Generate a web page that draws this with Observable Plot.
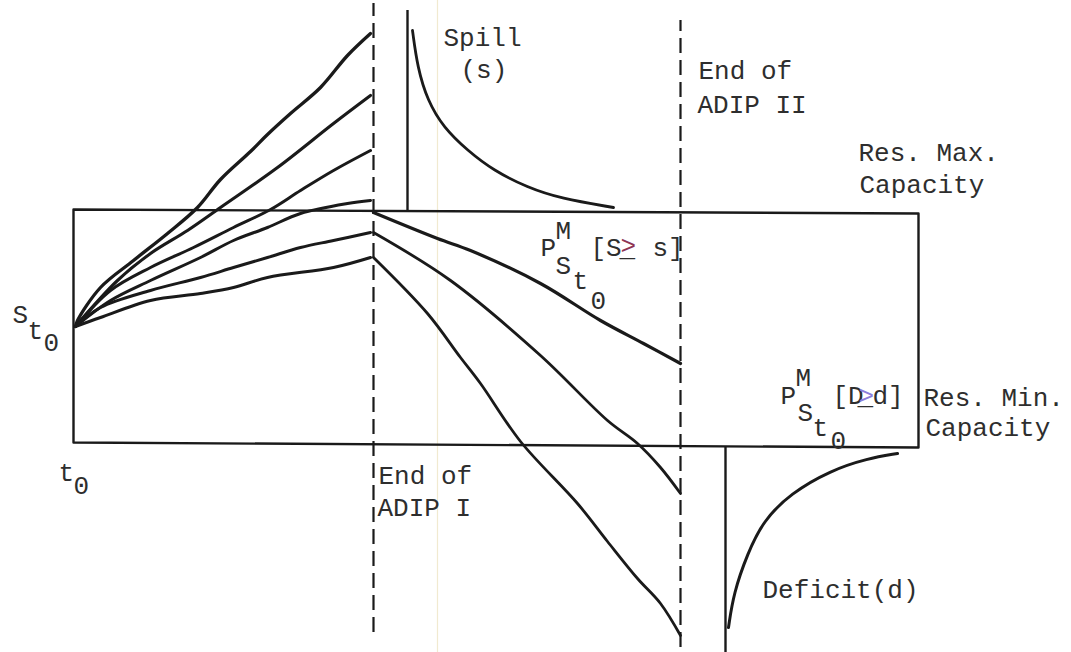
<!DOCTYPE html>
<html><head><meta charset="utf-8">
<script src="https://cdn.jsdelivr.net/npm/d3@7"></script>
<script src="https://cdn.jsdelivr.net/npm/@observablehq/plot@0.6"></script>
<style>html,body{margin:0;padding:0;background:#fff;overflow:hidden}</style>
</head><body><div id="chart"></div>
<script>
// x: time (t0 = 0, End of ADIP I = 3, End of ADIP II ≈ 6.07); y: storage (Res. Min = 0, Res. Max ≈ 2.32)
const reservoirBox = [[0,2.34],[8.45,2.30],[8.45,-0.04],[0,0.01],[0,2.34]];
const adipEnds = [{x:3.0, y1:-1.89, y2:4.40}, {x:6.07, y1:-2.04, y2:4.23}];
const solidBars = [{x:3.34, y1:2.32, y2:4.33}, {x:6.52, y1:-2.09, y2:-0.04}];
const scanMark = [{x:3.64, y1:-2.09, y2:4.43}];

const fan1 = [[0.02,1.17],[0.04,1.23],[0.27,1.56],[0.60,1.83],[0.94,2.10],[1.24,2.36],[1.47,2.64],[1.77,2.92],[1.94,3.09],[2.17,3.30],[2.47,3.56],[2.74,3.88],[2.97,4.10]];
const fan2 = [[0.02,1.17],[0.44,1.63],[0.77,1.90],[1.14,2.13],[1.47,2.36],[2.04,2.76],[2.60,3.20],[2.97,3.48]];
const fan3 = [[0.02,1.17],[0.37,1.53],[0.77,1.76],[1.20,1.96],[1.60,2.16],[1.97,2.34],[2.27,2.53],[2.60,2.73],[2.97,2.93]];
const fan4 = [[0.02,1.17],[0.37,1.43],[0.77,1.63],[1.27,1.86],[1.60,2.03],[1.94,2.16],[2.27,2.30],[2.74,2.40],[2.97,2.43]];
const fan5 = [[0.02,1.17],[0.27,1.36],[0.77,1.53],[1.27,1.66],[1.60,1.76],[1.94,1.86],[2.27,1.96],[2.60,2.03],[2.97,2.11]];
const fan6 = [[0.02,1.17],[0.27,1.26],[0.77,1.43],[1.27,1.50],[1.60,1.56],[1.94,1.66],[2.60,1.76],[2.97,1.86]];

const decline1 = [[3.0,2.31],[3.64,2.05],[3.97,1.93],[4.67,1.60],[5.27,1.23],[5.70,1.00],[6.07,0.80]];
const decline2 = [[3.0,2.11],[3.77,1.63],[4.67,0.88],[5.34,0.23],[5.64,0.00],[5.87,-0.24],[6.07,-0.50]];
const decline3 = [[3.0,1.86],[3.54,1.30],[3.87,0.86],[4.07,0.60],[4.47,0.02],[5.04,-0.60],[5.34,-0.98],[5.64,-1.35],[5.87,-1.60],[6.07,-1.92]];

const spillCurve = [[3.39,4.13],[3.44,3.76],[3.54,3.43],[3.70,3.16],[3.94,2.93],[4.20,2.73],[4.54,2.56],[4.87,2.45],[5.40,2.36]];
const deficitCurve = [[6.55,-1.84],[6.60,-1.50],[6.74,-1.10],[6.90,-0.77],[7.17,-0.50],[7.57,-0.27],[7.94,-0.15],[8.24,-0.10]];

const labels = [
  {t:"Spill", x:3.70, y:3.98}, {t:"(s)", x:3.87, y:3.66},
  {t:"End of", x:6.25, y:3.65}, {t:"ADIP II", x:6.24, y:3.31},
  {t:"Res. Max.", x:7.85, y:2.83}, {t:"Capacity", x:7.86, y:2.51},
  {t:"S", x:-0.61, y:1.21}, {t:"t", x:-0.46, y:1.05}, {t:"0", x:-0.30, y:0.93},
  {t:"t", x:-0.15, y:-0.37}, {t:"0", x:0.00, y:-0.50},
  {t:"End of", x:3.05, y:-0.40}, {t:"ADIP I", x:3.04, y:-0.72},
  {t:"P", x:4.67, y:1.88}, {t:"M", x:4.82, y:2.05}, {t:"[S", x:5.17, y:1.88},
  {t:"s]", x:5.79, y:1.88},
  {t:"S", x:4.82, y:1.70}, {t:"t", x:4.99, y:1.55}, {t:"0", x:5.17, y:1.35},
  {t:"P", x:7.07, y:0.40}, {t:"M", x:7.22, y:0.58}, {t:"[D", x:7.59, y:0.40},
  {t:"d]", x:7.99, y:0.40},
  {t:"S", x:7.24, y:0.23}, {t:"t", x:7.39, y:0.08}, {t:"0", x:7.57, y:-0.05},
  {t:"Res. Min.", x:8.50, y:0.38}, {t:"Capacity", x:8.52, y:0.08},
  {t:"Deficit(d)", x:6.89, y:-1.54}
];
// typed "≥": a coloured ">" struck over an underscore
const underlines = [{t:"_", x:5.46, y:1.88}, {t:"_", x:7.84, y:0.40}];
const colouredSigns = [
  {t:">", x:5.47, y:1.90, c:"#8e3554"},
  {t:">", x:7.85, y:0.40, c:"#8c7ddc"}
];

const ink = "#1a1a1a";
const textInk = "#2e2e2e";
const lineOpts = (w) => ({x: d => d[0], y: d => d[1], stroke: ink, strokeWidth: w, strokeLinejoin: "round", strokeLinecap: "round"});
const font = "'Liberation Mono', 'DejaVu Sans Mono', monospace";
const textOpts = {x: "x", y: "y", text: "t", textAnchor: "start", lineAnchor: "bottom", fontSize: 26, fontFamily: font};

const chart = Plot.plot({
  width: 1071, height: 652,
  margin: 0,
  x: {domain: [-0.73, 9.98], axis: null},
  y: {domain: [-2.09, 4.43], axis: null},
  style: {background: "#fff", fontFamily: font},
  marks: [
    Plot.ruleX(scanMark, {x: "x", y1: "y1", y2: "y2", stroke: "#f1ead0", strokeWidth: 1.2}),
    Plot.line(reservoirBox, lineOpts(2.4)),
    Plot.ruleX(adipEnds, {x: "x", y1: "y1", y2: "y2", stroke: ink, strokeWidth: 2.2, strokeDasharray: "15,7"}),
    Plot.ruleX(solidBars, {x: "x", y1: "y1", y2: "y2", stroke: ink, strokeWidth: 2.4}),
    Plot.line(fan1, {...lineOpts(3.3), curve: "catmull-rom"}),
    Plot.line(fan2, {...lineOpts(3.1), curve: "catmull-rom"}),
    Plot.line(fan3, {...lineOpts(3.0), curve: "catmull-rom"}),
    Plot.line(fan4, {...lineOpts(3.0), curve: "catmull-rom"}),
    Plot.line(fan5, {...lineOpts(3.0), curve: "catmull-rom"}),
    Plot.line(fan6, {...lineOpts(3.0), curve: "catmull-rom"}),
    Plot.line(decline1, {...lineOpts(3.2), curve: "catmull-rom"}),
    Plot.line(decline2, {...lineOpts(2.8), curve: "catmull-rom"}),
    Plot.line(decline3, {...lineOpts(2.8), curve: "catmull-rom"}),
    Plot.line(spillCurve, {...lineOpts(2.8), curve: "basis"}),
    Plot.line(deficitCurve, {...lineOpts(3.0), curve: "basis"}),
    Plot.text(labels, {...textOpts, fill: textInk}),
    Plot.text(underlines, {...textOpts, fill: textInk}),
    Plot.text(colouredSigns, {...textOpts, fill: "c"})
  ]
});
document.getElementById("chart").appendChild(chart);
</script></body></html>
